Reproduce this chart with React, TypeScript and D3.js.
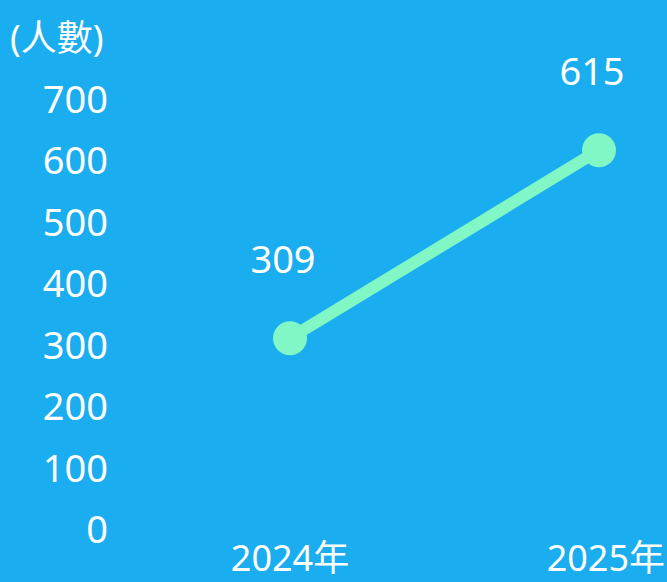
import React from "react";
import * as d3 from "d3";

const categories = ["2024年", "2025年"];
const values = [309, 615];
const yTicks = [0, 100, 200, 300, 400, 500, 600, 700];
const yUnit = "(人數)";

const W = 667;
const H = 582;
const FONT = "'Noto Sans', 'Noto Sans CJK TC', sans-serif";

export default function App() {
  const x = d3.scalePoint<string>().domain(categories).range([290, 599]);
  const y = d3.scaleLinear().domain([0, 700]).range([528, 98]);
  const line = d3
    .line<number>()
    .x((_, i) => x(categories[i]) as number)
    .y((d) => y(d));

  return (
    <svg width={W} height={H} style={{ position: "absolute", left: 0, top: 0, display: "block" }}>
      <rect width={W} height={H} fill="#1AADEF" />
      <text x={10} y={37} fill="#fff" fontFamily={FONT} fontSize={36} dominantBaseline="central">
        {yUnit}
      </text>
      {yTicks.map((t) => (
        <text
          key={t}
          x={108}
          y={y(t)}
          fill="#fff"
          fontFamily={FONT}
          fontSize={38}
          textAnchor="end"
          dominantBaseline="central"
        >
          {t}
        </text>
      ))}
      {categories.map((c, i) => (
        <text
          key={c}
          x={i === categories.length - 1 ? 665 : (x(c) as number)}
          y={557}
          fill="#fff"
          fontFamily={FONT}
          fontSize={36}
          textAnchor={i === categories.length - 1 ? "end" : "middle"}
          dominantBaseline="central"
        >
          {c}
        </text>
      ))}
      <path d={line(values) || ""} fill="none" stroke="#80F7C4" strokeWidth={12} strokeLinecap="round" />
      {values.map((v, i) => (
        <g key={i}>
          <circle cx={x(categories[i]) as number} cy={y(v)} r={17} fill="#80F7C4" />
          <text
            x={(x(categories[i]) as number) - 7}
            y={y(v) - 80}
            fill="#fff"
            fontFamily={FONT}
            fontSize={38}
            textAnchor="middle"
            dominantBaseline="central"
          >
            {v}
          </text>
        </g>
      ))}
    </svg>
  );
}
